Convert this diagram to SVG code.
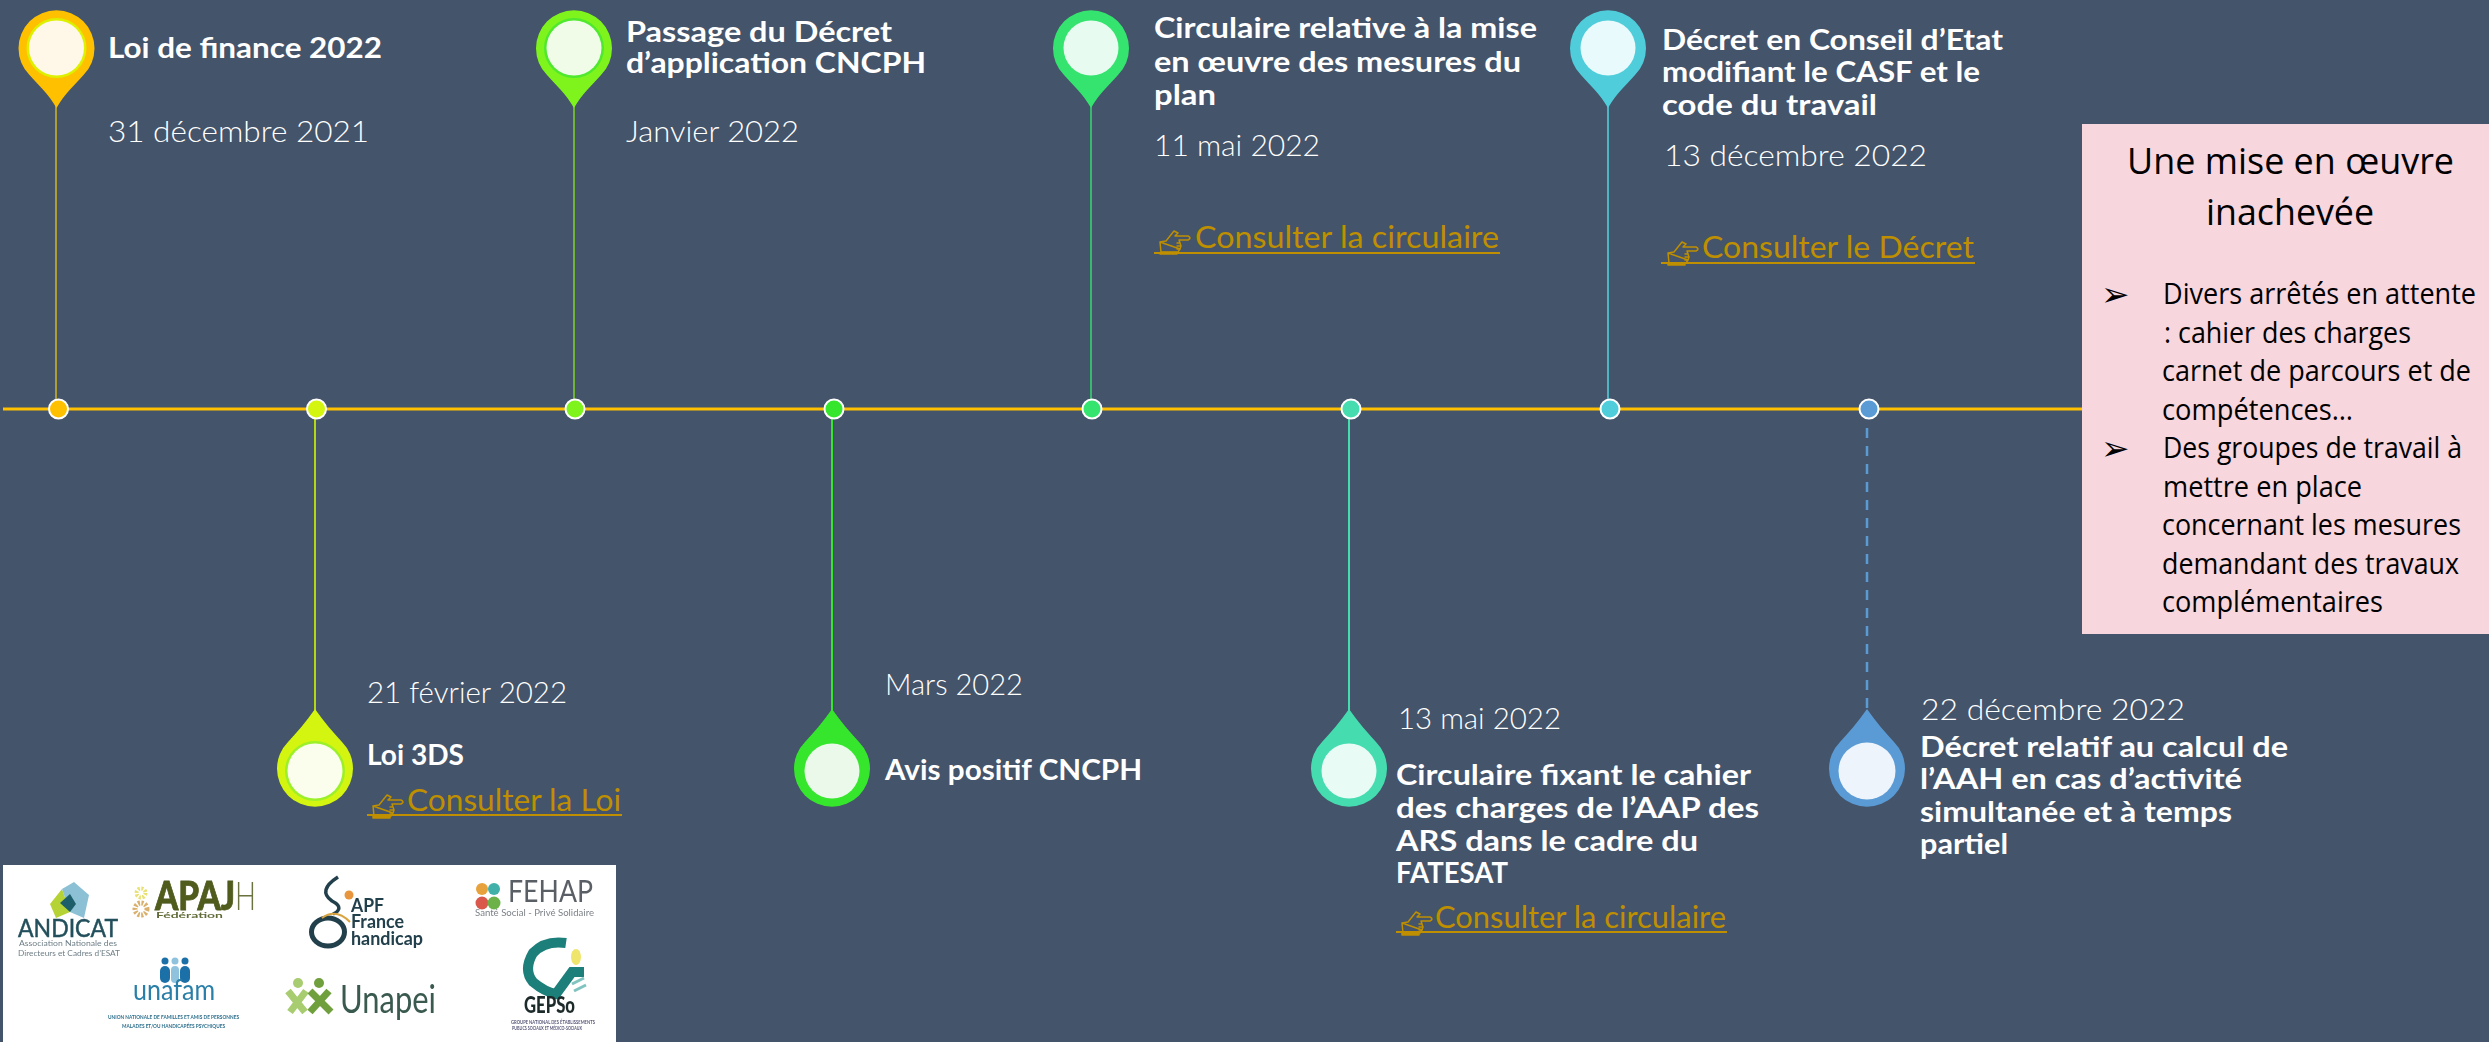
<svg xmlns="http://www.w3.org/2000/svg" xmlns:xlink="http://www.w3.org/1999/xlink" width="2489" height="1042" viewBox="0 0 2489 1042">
<style>
text{font-family:"Lato","Open Sans","Liberation Sans",sans-serif}
.t{font-size:29px;font-weight:700;fill:#fff;transform:translateX(-1px)}
.d{font-size:30px;font-weight:300;fill:#fff;transform:translate(-1px,-1px)}
.l{font-size:30px;font-weight:400;fill:#BF8F00;transform:translate(-1px,-1px)}
.u{stroke:#BF8F00;stroke-width:2;fill:none}
.h{stroke:#BF8F00;stroke-width:1.5;fill:none;stroke-linejoin:round;stroke-linecap:round}
.p{font-family:"Open Sans","Liberation Sans",sans-serif;font-size:29px;fill:#000}
.pt{font-family:"Open Sans","Liberation Sans",sans-serif;font-size:37px;fill:#000}
.a{font-family:"DejaVu Sans",sans-serif;font-size:34px;fill:#000}
.dot{stroke:#fff;stroke-width:2}
.stem{stroke-width:1.6;fill:none}
.stemb{stroke-width:2;fill:none}
</style>
<defs>
<path id="pinT" d="M0 108C-8 94 -18 85 -27 75A38 38 0 1 1 27 75C18 85 8 94 0 108Z"/>
<path id="pinB" d="M0 0C9 13 18 23 27 33A38 38 0 1 1 -27 33C-18 23 -9 13 0 0Z"/>
<g id="hand" class="h">
<path d="M3 12L9 11L17 1L21 3L18 6H31Q35 8 31 10H22L23 13H20M23 13L24 16H20M24 16L23 19H20M23 19L21 22H4L3 12Z"/>
<path d="M3 22.5H20V24H3Z" fill="#BF8F00"/>
</g>
<filter id="soft" x="-2%" y="-2%" width="104%" height="104%"><feGaussianBlur stdDeviation="0.55"/></filter>
</defs>
<rect id="background" width="2489" height="1042" fill="#44546A"/>

<g id="connectors">
<line x1="3" y1="409" x2="2082" y2="409" stroke="#FFC000" stroke-width="3"/>
<line class="stem" x1="56" y1="105" x2="56" y2="400" stroke="#C8B028"/>
<line class="stemb" x1="315" y1="418" x2="315" y2="712" stroke="#B4D614"/>
<line class="stem" x1="574" y1="105" x2="574" y2="400" stroke="#7CCB2A"/>
<line class="stemb" x1="832" y1="418" x2="832" y2="712" stroke="#36E62D"/>
<line class="stem" x1="1091" y1="105" x2="1091" y2="400" stroke="#38D070"/>
<line class="stemb" x1="1349" y1="418" x2="1349" y2="712" stroke="#45DDB0"/>
<line class="stem" x1="1608" y1="105" x2="1608" y2="400" stroke="#50CDDB"/>
<line x1="1867" y1="428" x2="1867" y2="708" stroke="#5B9BD5" stroke-width="2.5" stroke-dasharray="10 8"/>
</g>

<g id="node-loi-finance">
<circle class="dot" cx="58.5" cy="409" r="9.5" fill="#FFC000"/>
<use href="#pinT" x="56.5" y="0" fill="#FFC000"/>
<circle cx="56.5" cy="48" r="30" fill="#DDF000"/><circle cx="56.5" cy="48" r="27.5" fill="#FFF8E8"/>
<text class="t" x="109" y="58" textLength="274" lengthAdjust="spacingAndGlyphs">Loi de finance 2022</text>
<text class="d" x="109" y="143" textLength="261" lengthAdjust="spacingAndGlyphs">31 décembre 2021</text>
</g>

<g id="node-loi-3ds">
<circle class="dot" cx="316.5" cy="409" r="9.5" fill="#D4F50F"/>
<use href="#pinB" x="315" y="709" fill="#D4F50F"/>
<circle cx="315" cy="771" r="30" fill="#9CF02A"/><circle cx="315" cy="771" r="27.5" fill="#FBFEEC"/>
<text class="d" x="368" y="704" textLength="200" lengthAdjust="spacingAndGlyphs">21 février 2022</text>
<text class="t" x="368" y="765" textLength="97" lengthAdjust="spacingAndGlyphs">Loi 3DS</text>
<use href="#hand" x="370" y="794"/>
<text class="l" x="408" y="812" textLength="214" lengthAdjust="spacingAndGlyphs">Consulter la Loi</text>
<line class="u" x1="367" y1="815" x2="622" y2="815"/>
</g>

<g id="node-decret-cncph">
<circle class="dot" cx="575" cy="409" r="9.5" fill="#7FF41C"/>
<use href="#pinT" x="574" y="0" fill="#7FF41C"/>
<circle cx="574" cy="48" r="30" fill="#4FE82F"/><circle cx="574" cy="48" r="27.5" fill="#F0FCE8"/>
<text class="t" x="627" y="42" textLength="266" lengthAdjust="spacingAndGlyphs">Passage du Décret</text>
<text class="t" x="627" y="73" textLength="300" lengthAdjust="spacingAndGlyphs">d’application CNCPH</text>
<text class="d" x="627" y="143" textLength="173" lengthAdjust="spacingAndGlyphs">Janvier 2022</text>
</g>

<g id="node-avis-cncph">
<circle class="dot" cx="834" cy="409" r="9.5" fill="#36E62D"/>
<use href="#pinB" x="832" y="709" fill="#36E62D"/>
<circle cx="832" cy="771" r="27.5" fill="#EAF9EA"/>
<text class="d" x="886" y="696" textLength="138" lengthAdjust="spacingAndGlyphs">Mars 2022</text>
<text class="t" x="886" y="780" textLength="257" lengthAdjust="spacingAndGlyphs">Avis positif CNCPH</text>
</g>

<g id="node-circulaire-plan">
<circle class="dot" cx="1092" cy="409" r="9.5" fill="#35E36F"/>
<use href="#pinT" x="1091" y="0" fill="#35E36F"/>
<circle cx="1091" cy="48" r="27.5" fill="#E8FBF0"/>
<text class="t" x="1155" y="38" textLength="383" lengthAdjust="spacingAndGlyphs">Circulaire relative à la mise</text>
<text class="t" x="1155" y="72" textLength="367" lengthAdjust="spacingAndGlyphs">en œuvre des mesures du</text>
<text class="t" x="1155" y="105" textLength="62" lengthAdjust="spacingAndGlyphs">plan</text>
<text class="d" x="1155" y="157" textLength="166" lengthAdjust="spacingAndGlyphs">11 mai 2022</text>
<use href="#hand" x="1157" y="230"/>
<text class="l" x="1196" y="249" textLength="304" lengthAdjust="spacingAndGlyphs">Consulter la circulaire</text>
<line class="u" x1="1154" y1="253" x2="1500" y2="253"/>
</g>

<g id="node-circulaire-aap">
<circle class="dot" cx="1351" cy="409" r="9.5" fill="#45DDB0"/>
<use href="#pinB" x="1349" y="709" fill="#45DDB0"/>
<circle cx="1349" cy="771" r="27.5" fill="#E9FBF5"/>
<text class="d" x="1399" y="730" textLength="163" lengthAdjust="spacingAndGlyphs">13 mai 2022</text>
<text class="t" x="1397" y="785" textLength="355" lengthAdjust="spacingAndGlyphs">Circulaire fixant le cahier</text>
<text class="t" x="1397" y="818" textLength="363" lengthAdjust="spacingAndGlyphs">des charges de l’AAP des</text>
<text class="t" x="1397" y="851" textLength="302" lengthAdjust="spacingAndGlyphs">ARS dans le cadre du</text>
<text class="t" x="1397" y="883" textLength="112" lengthAdjust="spacingAndGlyphs">FATESAT</text>
<use href="#hand" x="1399" y="911"/>
<text class="l" x="1436" y="929" textLength="291" lengthAdjust="spacingAndGlyphs">Consulter la circulaire</text>
<line class="u" x1="1396" y1="932" x2="1727" y2="932"/>
</g>

<g id="node-decret-casf">
<circle class="dot" cx="1610" cy="409" r="9.5" fill="#50CDDB"/>
<use href="#pinT" x="1608" y="0" fill="#50CDDB"/>
<circle cx="1608" cy="48" r="27.5" fill="#E9FAFC"/>
<text class="t" x="1663" y="50" textLength="341" lengthAdjust="spacingAndGlyphs">Décret en Conseil d’Etat</text>
<text class="t" x="1663" y="82" textLength="318" lengthAdjust="spacingAndGlyphs">modifiant le CASF et le</text>
<text class="t" x="1663" y="115" textLength="215" lengthAdjust="spacingAndGlyphs">code du travail</text>
<text class="d" x="1665" y="167" textLength="263" lengthAdjust="spacingAndGlyphs">13 décembre 2022</text>
<use href="#hand" x="1665" y="241"/>
<text class="l" x="1703" y="259" textLength="272" lengthAdjust="spacingAndGlyphs">Consulter le Décret</text>
<line class="u" x1="1661" y1="263" x2="1975" y2="263"/>
</g>

<g id="node-decret-aah">
<circle class="dot" cx="1869" cy="409" r="9.5" fill="#5B9BD5"/>
<use href="#pinB" x="1867" y="709" fill="#5B9BD5"/>
<circle cx="1867" cy="771" r="28.5" fill="#EEF4FB"/>
<text class="d" x="1922" y="721" textLength="264" lengthAdjust="spacingAndGlyphs">22 décembre 2022</text>
<text class="t" x="1921" y="757" textLength="368" lengthAdjust="spacingAndGlyphs">Décret relatif au calcul de</text>
<text class="t" x="1921" y="789" textLength="322" lengthAdjust="spacingAndGlyphs">l’AAH en cas d’activité</text>
<text class="t" x="1921" y="822" textLength="312" lengthAdjust="spacingAndGlyphs">simultanée et à temps</text>
<text class="t" x="1921" y="854" textLength="88" lengthAdjust="spacingAndGlyphs">partiel</text>
</g>

<g id="node-inachevee">
<rect x="2082" y="124" width="407" height="510" fill="#F7D6DE"/>
<text class="pt" x="2127" y="174" textLength="327" lengthAdjust="spacingAndGlyphs">Une mise en œuvre</text>
<text class="pt" x="2206" y="225" textLength="168" lengthAdjust="spacingAndGlyphs">inachevée</text>
<text class="a" x="2101" y="306">➢</text>
<text class="p" x="2163" y="304" textLength="313" lengthAdjust="spacingAndGlyphs">Divers arrêtés en attente</text>
<text class="p" x="2164" y="343" textLength="247" lengthAdjust="spacingAndGlyphs">: cahier des charges</text>
<text class="p" x="2162" y="381" textLength="309" lengthAdjust="spacingAndGlyphs">carnet de parcours et de</text>
<text class="p" x="2162" y="420" textLength="191" lengthAdjust="spacingAndGlyphs">compétences…</text>
<text class="a" x="2101" y="460">➢</text>
<text class="p" x="2163" y="458" textLength="299" lengthAdjust="spacingAndGlyphs">Des groupes de travail à</text>
<text class="p" x="2163" y="497" textLength="199" lengthAdjust="spacingAndGlyphs">mettre en place</text>
<text class="p" x="2162" y="535" textLength="299" lengthAdjust="spacingAndGlyphs">concernant les mesures</text>
<text class="p" x="2162" y="574" textLength="297" lengthAdjust="spacingAndGlyphs">demandant des travaux</text>
<text class="p" x="2162" y="612" textLength="221" lengthAdjust="spacingAndGlyphs">complémentaires</text>
</g>

<g id="logos">
<rect x="3" y="865" width="613" height="177" fill="#fff"/>
<g filter="url(#soft)">
<g id="logo-andicat">
<path d="M50 904L62 889L70 912L56 918Z" fill="#B5D334"/>
<path d="M62 889L74 882L89 895L84 918L70 912Z" fill="#8CC0D4"/>
<path d="M60 903L70 894L76 904L70 912Z" fill="#1F5F6B"/>
<text x="18" y="937" font-size="25" fill="#23505C" stroke="#23505C" stroke-width="0.5" textLength="100" lengthAdjust="spacingAndGlyphs">ANDICAT</text>
<text x="19" y="946" font-size="8" fill="#6E7F86" textLength="98" lengthAdjust="spacingAndGlyphs">Association Nationale des</text>
<text x="18" y="956" font-size="8" fill="#6E7F86" textLength="102" lengthAdjust="spacingAndGlyphs">Directeurs et Cadres d’ESAT</text>
</g>
<g id="logo-apajh">
<circle cx="141" cy="893" r="4.5" fill="none" stroke="#E8E070" stroke-width="4" stroke-dasharray="2 1.5"/>
<circle cx="141" cy="909" r="6" fill="none" stroke="#D9B06C" stroke-width="5" stroke-dasharray="2 1.5"/>
<text x="155" y="910" font-size="39" font-weight="900" fill="#4F5B1E" stroke="#4F5B1E" stroke-width="0.8" textLength="80" lengthAdjust="spacingAndGlyphs">APAJ</text>
<text x="235" y="910" font-size="39" font-weight="300" fill="#6A7240" textLength="21" lengthAdjust="spacingAndGlyphs">H</text>
<text x="156" y="918" font-size="8" font-weight="700" fill="#5F6A35" textLength="67" lengthAdjust="spacingAndGlyphs">Fédération</text>
</g>
<g id="logo-apf">
<ellipse cx="328" cy="932" rx="16.5" ry="14" fill="none" stroke="#24404C" stroke-width="5"/>
<path d="M338 877C324 886 322 894 332 901C342 906 340 911 333 914" fill="none" stroke="#24404C" stroke-width="3.5"/>
<path d="M322 918Q336 908 350 922" fill="none" stroke="#D9A441" stroke-width="2"/>
<circle cx="349" cy="895" r="4.5" fill="#E8963C"/>
<text x="351" y="912" font-size="18" font-weight="700" fill="#24404C" textLength="33" lengthAdjust="spacingAndGlyphs">APF</text>
<text x="351" y="928" font-size="18" font-weight="700" fill="#24404C" textLength="53" lengthAdjust="spacingAndGlyphs">France</text>
<text x="351" y="945" font-size="18" font-weight="700" fill="#24404C" textLength="72" lengthAdjust="spacingAndGlyphs">handicap</text>
</g>
<g id="logo-fehap">
<circle cx="482" cy="889" r="6" fill="#E8A23C"/><circle cx="494" cy="889" r="6" fill="#3FB0A8"/>
<circle cx="482" cy="903" r="6.5" fill="#D9594C"/><circle cx="494" cy="903" r="6.5" fill="#6CB24A"/>
<text x="508" y="902" font-size="30" fill="#5A5F66" textLength="85" lengthAdjust="spacingAndGlyphs">FEHAP</text>
<text x="475" y="916" font-size="8.5" fill="#7D8288" textLength="119" lengthAdjust="spacingAndGlyphs">Santé Social - Privé Solidaire</text>
</g>
<g id="logo-unafam">
<circle cx="165" cy="961" r="3.5" fill="#1F6FA8"/><circle cx="175" cy="961" r="3.5" fill="#8FC3DD"/><circle cx="185" cy="961" r="3.5" fill="#1F6FA8"/>
<rect x="160" y="966" width="10" height="17" rx="5" fill="#1F6FA8"/><rect x="171" y="966" width="8" height="17" rx="4" fill="#8FC3DD"/><rect x="180" y="966" width="10" height="17" rx="5" fill="#1F6FA8"/>
<text x="133" y="1000" font-size="29" fill="#2A7FA8" textLength="82" lengthAdjust="spacingAndGlyphs">unafam</text>
<text x="108" y="1019" font-size="6" font-weight="700" fill="#2D6F8C" textLength="131" lengthAdjust="spacingAndGlyphs">UNION NATIONALE DE FAMILLES ET AMIS DE PERSONNES</text>
<text x="122" y="1028" font-size="6" font-weight="700" fill="#2D6F8C" textLength="103" lengthAdjust="spacingAndGlyphs">MALADES ET/OU HANDICAPÉES PSYCHIQUES</text>
</g>
<g id="logo-unapei">
<circle cx="298" cy="983" r="5" fill="#A8CC70"/><circle cx="319" cy="983" r="5" fill="#6FA03C"/>
<path d="M288 991L305 1012M306 991L290 1012" stroke="#A8CC70" stroke-width="7" fill="none"/>
<path d="M310 991L331 1012M329 991L310 1012" stroke="#6FA03C" stroke-width="7" fill="none"/>
<text x="340" y="1013" font-size="38" fill="#3A5A50" textLength="96" lengthAdjust="spacingAndGlyphs">Unapei</text>
</g>
<g id="logo-gepso">
<path d="M566 943Q545 940 533 953Q523 970 533 982Q545 992 556 994L572 972H584" fill="none" stroke="#1F7F7A" stroke-width="10"/>
<ellipse cx="576" cy="957" rx="5" ry="8" fill="#EFE56C"/>
<path d="M572 984L584 978M574 991L586 985" stroke="#7FC4C0" stroke-width="3"/>
<text x="524" y="1013" font-size="22" font-weight="900" fill="#1E2A2A" textLength="51" lengthAdjust="spacingAndGlyphs">GEPSo</text>
<text x="511" y="1024" font-size="5" font-weight="700" fill="#557" textLength="84" lengthAdjust="spacingAndGlyphs">GROUPE NATIONAL DES ÉTABLISSEMENTS</text>
<text x="512" y="1030" font-size="5" font-weight="700" fill="#557" textLength="70" lengthAdjust="spacingAndGlyphs">PUBLICS SOCIAUX ET MÉDICO-SOCIAUX</text>
</g>
</g>
</g>
</svg>
